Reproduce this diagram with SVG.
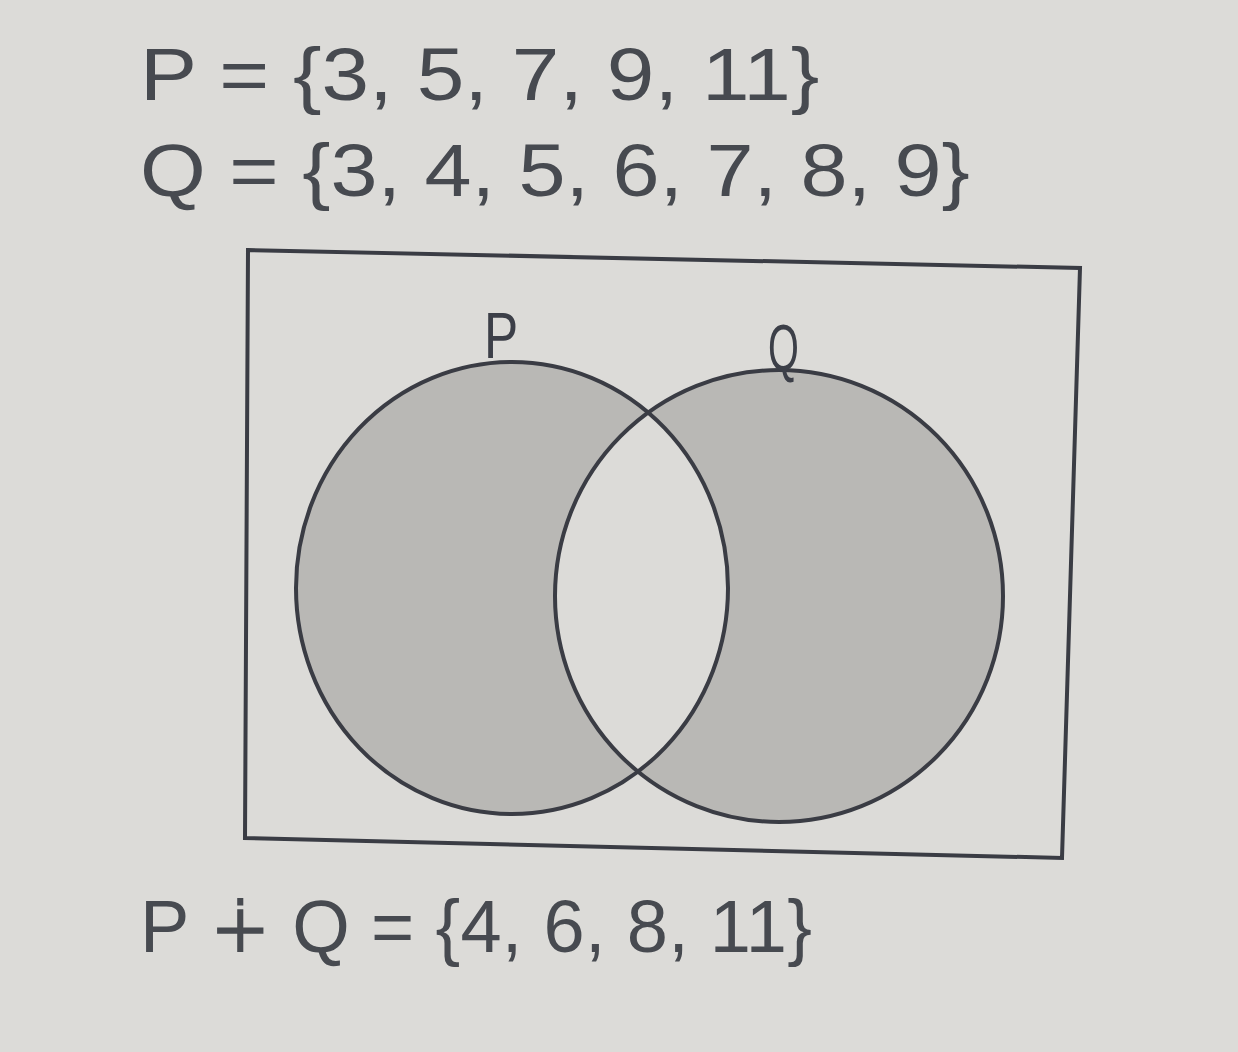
<svg xmlns="http://www.w3.org/2000/svg" width="1238" height="1052" viewBox="0 0 1238 1052">
<style>
.t{font-family:"Liberation Sans",Arial,sans-serif;fill:#474a50}
.lbl{font-family:"Liberation Sans",Arial,sans-serif;fill:#3c3f48}
.ln{fill:none;stroke:#3a3c44;stroke-width:4}
</style>
<rect width="1238" height="1052" fill="#dcdbd8"/>
<g id="sets">
<text class="t" x="0" y="100" font-size="74" transform="translate(140 0) scale(1.156 1)">P = {3, 5, 7, 9, 11}</text>
<text class="t" x="0" y="196" font-size="74" transform="translate(140 0) scale(1.143 1)">Q = {3, 4, 5, 6, 7, 8, 9}</text>
</g>
<g id="universe">
<polygon class="ln" points="248,250 1080,268 1062,858 245,838" stroke-width="5"/>
</g>
<g id="regions">
<path d="M296,588 a216,226 0 1,0 432,0 a216,226 0 1,0 -432,0 Z M555,596 a224,226 0 1,0 448,0 a224,226 0 1,0 -448,0 Z" fill="#b9b8b5" fill-rule="evenodd"/>
</g>
<g id="P">
<ellipse class="ln" cx="512" cy="588" rx="216" ry="226"/>
<text class="lbl" x="484" y="358" font-size="64" transform="translate(484 0) scale(0.8 1) translate(-484 0)">P</text>
</g>
<g id="Q">
<ellipse class="ln" cx="779" cy="596" rx="224" ry="226"/>
<text class="lbl" x="768" y="370" font-size="64" transform="translate(768 0) scale(0.62 1) translate(-768 0)">Q</text>
</g>
<g id="result">
<text class="t" x="140" y="952" font-size="74" textLength="672" lengthAdjust="spacing">P <tspan font-family="DejaVu Sans">∔</tspan> Q = {4, 6, 8, 11}</text>
</g>
</svg>
